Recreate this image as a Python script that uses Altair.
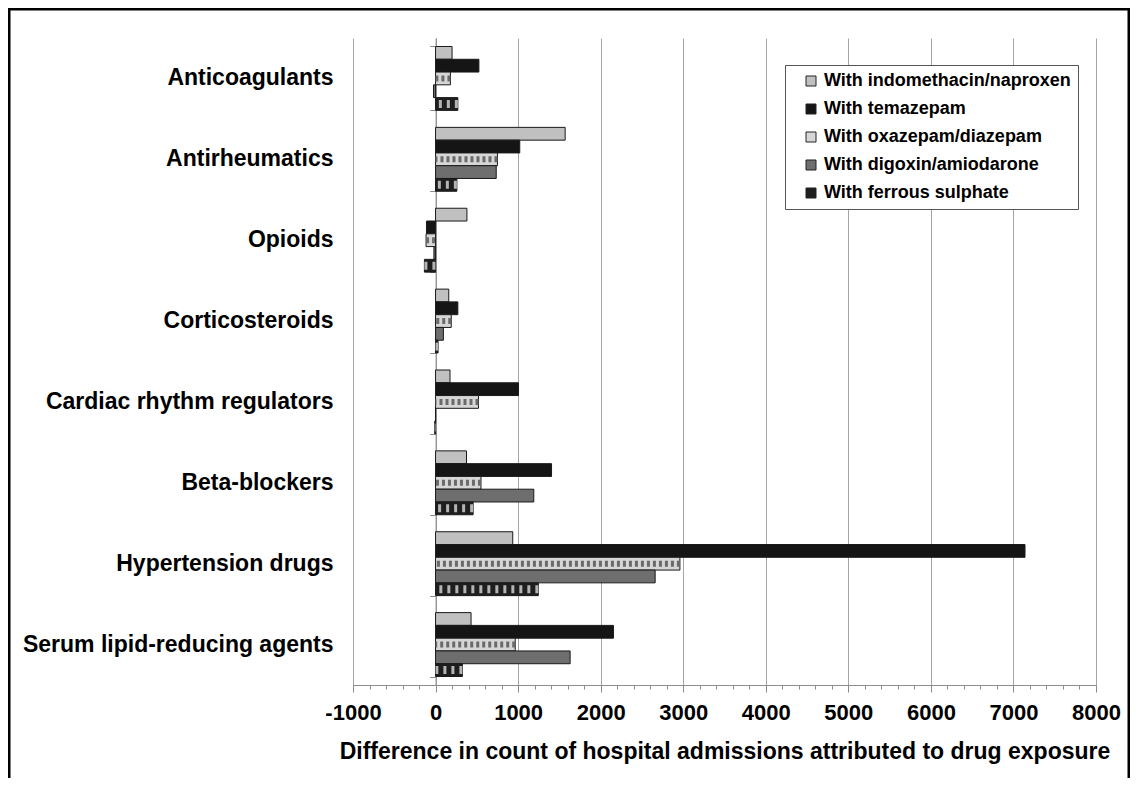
import altair as alt
import pandas as pd

categories = [
    "Anticoagulants",
    "Antirheumatics",
    "Opioids",
    "Corticosteroids",
    "Cardiac rhythm regulators",
    "Beta-blockers",
    "Hypertension drugs",
    "Serum lipid-reducing agents",
]
series = [
    "With indomethacin/naproxen",
    "With temazepam",
    "With oxazepam/diazepam",
    "With digoxin/amiodarone",
    "With ferrous sulphate",
]
indomethacin_naproxen = [200, 1570, 380, 160, 175, 375, 935, 430]
temazepam = [525, 1020, -110, 270, 1005, 1405, 7140, 2155]
oxazepam_diazepam = [180, 750, -115, 190, 520, 550, 2960, 965]
digoxin_amiodarone = [-25, 735, -20, 95, 0, 1190, 2660, 1630]
ferrous_sulphate = [270, 258, -135, 30, -10, 455, 1245, 325]

x_ticks = [-1000, 0, 1000, 2000, 3000, 4000, 5000, 6000, 7000, 8000]
x_minor = [v for v in range(-1000, 8001, 200) if v % 1000 != 0]

all_values = [indomethacin_naproxen, temazepam, oxazepam_diazepam,
              digoxin_amiodarone, ferrous_sulphate]
rows = []
for i, c in enumerate(categories):
    for s, vals in zip(series, all_values):
        rows.append({"category": c, "series": s, "value": vals[i]})
df = pd.DataFrame(rows)

fills = ["#c0c0c0", "#151515", "#d6d6d6", "#6e6e6e", "#1e1e1e"]
FONT = "Liberation Sans"
GRID = "#a4a4a4"
AXIS = "#8c8c8c"

x_scale = alt.Scale(domain=[-1000, 8000], nice=False, zero=False)
y_scale = alt.Scale(domain=categories, paddingInner=0.21, paddingOuter=0.105)
yoff_scale = alt.Scale(domain=series, paddingInner=0, paddingOuter=0)

bars = alt.Chart(df).mark_bar(stroke="#1a1a1a", strokeWidth=1).encode(
    x=alt.X(
        "value:Q", scale=x_scale, stack=None,
        axis=alt.Axis(
            orient="bottom", values=x_ticks, grid=True, gridColor=GRID,
            domainColor=AXIS, tickColor=AXIS, tickSize=7,
            labelExpr="'' + datum.value", labelFlush=False,
            labelFont=FONT, labelFontSize=22, labelFontWeight="bold",
            labelColor="black", labelPadding=10,
            title="Difference in count of hospital admissions attributed to drug exposure",
            titleFont=FONT, titleFontSize=23, titleFontWeight="bold",
            titleColor="black", titlePadding=17,
        ),
    ),
    y=alt.Y(
        "category:N", scale=y_scale, sort=categories,
        axis=alt.Axis(
            orient="left", title="", ticks=False, domain=False,
            labelFont=FONT, labelFontSize=23, labelFontWeight="bold",
            labelColor="black", labelPadding=20, labelLimit=500,
        ),
    ),
    yOffset=alt.YOffset("series:N", scale=yoff_scale, sort=series),
    color=alt.Color(
        "series:N", scale=alt.Scale(domain=series, range=fills), sort=series,
        legend=alt.Legend(
            orient="none", legendX=432, legendY=27, title="",
            direction="vertical", fillColor="white", strokeColor="#555555",
            padding=7, symbolOffset=10, symbolType="square", symbolSize=100,
            symbolStrokeColor="#222222", symbolStrokeWidth=1,
            labelFont=FONT, labelFontSize=18, labelFontWeight="bold",
            labelColor="black", rowPadding=10, labelOffset=4, labelLimit=400,
        ),
    ),
)

ox = alt.Chart(df).transform_filter(
    alt.datum.series == "With oxazepam/diazepam"
).mark_rule(color="#6a6a6a", strokeWidth=6, strokeDash=[3, 3]).encode(
    x=alt.X(
        "value:Q", scale=x_scale,
        axis=alt.Axis(
            orient="bottom", values=x_minor, labels=False, grid=False,
            domain=False, tickColor=AXIS, tickSize=4, title="",
        ),
    ),
    x2=alt.datum(0),
    y=alt.Y("category:N", scale=y_scale, sort=categories, axis=None),
    yOffset=alt.YOffset("series:N", scale=yoff_scale, sort=series),
)

fe = alt.Chart(df).transform_filter(
    alt.datum.series == "With ferrous sulphate"
).mark_rule(color="#b4b4b4", strokeWidth=8, strokeDash=[3, 5]).encode(
    x=alt.X("value:Q", scale=x_scale, axis=None),
    x2=alt.datum(0),
    y=alt.Y(
        "category:N", scale=y_scale, sort=categories,
        axis=alt.Axis(
            orient="left", labels=False, ticks=True, tickBand="extent",
            tickSize=6, tickColor=AXIS, domain=True, domainColor=AXIS,
            offset=-82.6, title="", grid=False,
        ),
    ),
    yOffset=alt.YOffset("series:N", scale=yoff_scale, sort=series),
)

frame = alt.Chart(pd.DataFrame({"a": [0]})).mark_rect(
    filled=False, stroke="black", strokeWidth=3
).encode(
    x=alt.value(-344), x2=alt.value(776),
    y=alt.value(-29), y2=alt.value(800),
)

chart = alt.layer(bars, ox, fe, frame).resolve_axis(
    x="independent", y="independent"
).properties(
    width=743, height=647,
    autosize=alt.AutoSizeParams(type="none"),
    padding={"left": 345, "top": 30, "right": 34, "bottom": 93},
    background="white",
).configure_view(strokeWidth=0)

chart.save("out.html", embed_options={"renderer": "svg", "actions": False})
